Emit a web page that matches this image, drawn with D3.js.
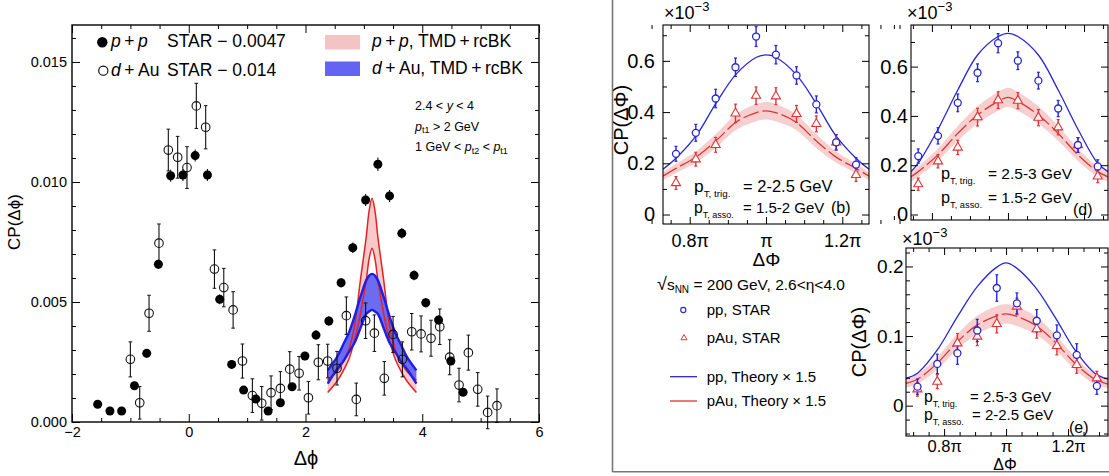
<!DOCTYPE html>
<html>
<head>
<meta charset="utf-8">
<script src="https://cdn.jsdelivr.net/npm/d3@7"></script>
<style>
  body { margin: 0; background: #fff; }
  svg { display: block; }
  text { font-family: "Liberation Sans", Arial, Helvetica, sans-serif; fill: #000; }
</style>
</head>
<body>
<svg id="fig" width="1109" height="476"></svg>
<script>
// ---------------- Left figure: correlation function vs Δϕ ----------------
const ppX = [-1.56,-1.35,-1.15,-0.93,-0.72,-0.52,-0.31,-0.10,0.11,0.32,0.53,0.735,0.94,1.15,1.36,1.57,1.77,1.99,2.18,2.40,2.61,2.81,3.03,3.24,3.44,3.65,3.86,4.06,4.28,4.49,4.70];
const ppY = [0.00074,0.00046,0.00046,0.00151,0.00286,0.00657,0.01026,0.01029,0.0111,0.01029,0.00511,0.0024,0.00133,0.00096,0.00046,0.0008,0.00147,0.00275,0.00362,0.00421,0.0058,0.00726,0.00925,0.01074,0.00942,0.00786,0.00611,0.00497,0.00425,0.00254,0.00124];
const ppErr = [0.00015,0.00015,0.00015,0.00015,0.00018,0.0002,0.00025,0.00025,0.00025,0.00025,0.0002,0.00018,0.00015,0.00015,0.00015,0.00015,0.00015,0.00018,0.0002,0.0002,0.0002,0.00022,0.00025,0.00028,0.00025,0.00022,0.0002,0.0002,0.0002,0.00018,0.00015];

const dauX = [-1.0,-0.84,-0.68,-0.51,-0.35,-0.19,-0.03,0.13,0.29,0.44,0.60,0.76,0.92,1.09,1.25,1.41,1.57,1.73,1.89,2.05,2.22,2.38,2.54,2.70,2.87,3.03,3.18,3.35,3.50,3.66,3.82,3.98,4.15,4.30,4.47,4.63,4.79,4.95,5.12,5.28];
const dauY = [0.00261,0.0008,0.00453,0.00745,0.01133,0.01103,0.0106,0.01317,0.01228,0.00637,0.0056,0.00467,0.00254,0.0011,0.00078,0.00122,0.0014,0.0022,0.00203,0.00101,0.00249,0.00254,0.00224,0.00443,0.00094,0.00422,0.0037,0.00182,0.00365,0.00261,0.00376,0.00367,0.00349,0.00397,0.0027,0.00154,0.00289,0.00136,0.0004,0.00068];
const dauErr = [0.00073,0.00068,0.00075,0.0008,0.00087,0.00087,0.00087,0.00094,0.0009,0.0008,0.0008,0.00076,0.00071,0.0007,0.0007,0.0007,0.0007,0.00073,0.0007,0.00068,0.00073,0.0007,0.0007,0.00078,0.00068,0.00074,0.00076,0.0007,0.00075,0.00073,0.00076,0.00075,0.00075,0.00074,0.00073,0.0007,0.00073,0.0007,0.00068,0.0007];

// TMD + rcBK bands (upper / lower edges)
const bandX   = [2.38,2.54,2.64,2.74,2.84,2.94,3.04,3.09,3.14,3.19,3.24,3.34,3.44,3.54,3.64,3.74,3.90];
const ppBandHi  = [0.00175,0.0021,0.0025,0.0030,0.0040,0.0059,0.0077,0.0088,0.00932,0.0088,0.0077,0.0059,0.0040,0.0030,0.0025,0.0021,0.00175];
const ppBandLo  = [0.00123,0.0017,0.0021,0.0026,0.0034,0.0045,0.0059,0.0068,0.00724,0.0068,0.0059,0.0045,0.0034,0.0026,0.0021,0.0017,0.00123];
const dauBandHi = [0.00215,0.0027,0.0032,0.0037,0.0044,0.0052,0.0059,0.0061,0.00617,0.0061,0.0059,0.0052,0.0044,0.0037,0.0032,0.0027,0.00215];
const dauBandLo = [0.0016,0.0022,0.0025,0.0029,0.0033,0.0039,0.0045,0.0046,0.00467,0.0046,0.0045,0.0039,0.0033,0.0029,0.0025,0.0022,0.0016];

const leftXTicks = [-2, 0, 2, 4, 6];
const leftYTicks = [0, 0.005, 0.010, 0.015];

// ---------------- Right figure: away-side peaks ----------------
const starX  = [0.764,0.816,0.868,0.92,0.974,1.026,1.08,1.132,1.184,1.236];
const starPP = [0.237,0.319,0.453,0.575,0.695,0.624,0.543,0.430,0.282,0.195];
const starPPErr = [0.029,0.033,0.036,0.036,0.039,0.036,0.034,0.033,0.030,0.027];
const starPA = [0.123,0.216,0.272,0.395,0.464,0.462,0.393,0.354,0.282,0.155];
const starPAErr = [0.025,0.027,0.029,0.036,0.034,0.033,0.033,0.031,0.030,0.026];

const starXe  = [0.714,0.778,0.843,0.907,0.970,1.035,1.099,1.164,1.228,1.293];
const starPPe = [0.0273,0.060,0.0754,0.108,0.169,0.147,0.122,0.101,0.073,0.0283];
const starPPeErr = [0.011,0.014,0.016,0.016,0.019,0.015,0.016,0.015,0.016,0.012];
const starPAe = [0.0236,0.0345,0.0897,0.0993,0.1175,0.1425,0.110,0.086,0.0585,0.0394];
const starPAeErr = [0.010,0.010,0.014,0.013,0.013,0.012,0.013,0.013,0.012,0.010];

// theory × 1.5 curves, panel (b)
const thXb  = [0.730,0.764,0.818,0.871,0.923,0.975,1.000,1.025,1.077,1.129,1.182,1.236,1.270];
const thPPb = [0.177,0.220,0.310,0.440,0.550,0.614,0.623,0.614,0.550,0.440,0.310,0.220,0.177];
const thPAb = [0.150,0.180,0.226,0.291,0.3625,0.398,0.405,0.398,0.3625,0.291,0.226,0.180,0.150];
const thPAbErr = [0.016,0.018,0.022,0.027,0.031,0.034,0.034,0.034,0.031,0.027,0.022,0.018,0.016];
// panel (d)
const thXd  = [0.745,0.764,0.815,0.868,0.920,0.973,1.000,1.027,1.080,1.132,1.185,1.236,1.263];
const thPPd = [0.174,0.208,0.343,0.505,0.647,0.721,0.735,0.721,0.647,0.505,0.343,0.208,0.174];
const thPAd = [0.153,0.174,0.241,0.329,0.404,0.458,0.475,0.458,0.404,0.329,0.241,0.174,0.153];
const thPAdErr = [0.020,0.021,0.025,0.030,0.035,0.038,0.039,0.038,0.035,0.030,0.025,0.021,0.020];
// panel (e)
const thXe  = [0.677,0.714,0.778,0.843,0.907,0.970,1.000,1.030,1.093,1.157,1.222,1.286,1.329];
const thPPe = [0.0394,0.0466,0.080,0.128,0.171,0.199,0.205,0.199,0.171,0.128,0.080,0.0466,0.038];
const thPAe = [0.032,0.038,0.061,0.092,0.116,0.129,0.132,0.129,0.116,0.092,0.061,0.038,0.031];
const thPAeErr = [0.006,0.007,0.009,0.011,0.013,0.014,0.014,0.014,0.013,0.011,0.009,0.007,0.006];

const piTickLabels = {0.8: "0.8π", 1: "π", 1.2: "1.2π"};

const BLUE = "#2626d8", RED = "#e03434", PINK = "#f6caca";

const svg = d3.select("#fig");

// ---------- helpers ----------
function styleAxis(g, size) {
  g.select(".domain").remove();
  g.selectAll("line").attr("stroke", "#000").attr("stroke-width", 1);
  g.selectAll("text").attr("font-size", size).attr("font-family", '"Liberation Sans", Arial, sans-serif').attr("fill", "#000");
}
function frameAxes(g, x, y, o) {
  // labelled major ticks
  g.append("g").attr("transform", `translate(0,${o.y1})`)
    .call(d3.axisBottom(x).tickValues(o.xMajor).tickSize(-o.major).tickPadding(o.xPad).tickFormat(o.xFmat || (() => "")))
    .call(s => styleAxis(s, o.xFont || o.font));
  g.append("g").attr("transform", `translate(0,${o.y0})`)
    .call(d3.axisTop(x).tickValues(o.xMajor).tickSize(-o.major).tickFormat(() => ""))
    .call(s => styleAxis(s, o.font));
  g.append("g").attr("transform", `translate(${o.x0},0)`)
    .call(d3.axisLeft(y).tickValues(o.yMajor).tickSize(-o.major).tickPadding(o.yPad).tickFormat(o.yFmat))
    .call(s => styleAxis(s, o.font));
  g.append("g").attr("transform", `translate(${o.x1},0)`)
    .call(d3.axisRight(y).tickValues(o.yMajor).tickSize(-o.major).tickFormat(() => ""))
    .call(s => styleAxis(s, o.font));
  // minor ticks
  [["axisBottom", o.y1, x, o.xMinor, "h"], ["axisTop", o.y0, x, o.xMinor, "h"],
   ["axisLeft", o.x0, y, o.yMinor, "v"], ["axisRight", o.x1, y, o.yMinor, "v"]].forEach(([fn, pos, sc, vals, dir]) => {
    g.append("g").attr("transform", dir === "h" ? `translate(0,${pos})` : `translate(${pos},0)`)
      .call(d3[fn](sc).tickValues(vals).tickSize(-o.minor).tickFormat(() => ""))
      .call(s => styleAxis(s, o.font));
  });
  g.append("rect").attr("x", o.x0).attr("y", o.y0).attr("width", o.x1 - o.x0).attr("height", o.y1 - o.y0)
    .attr("fill", "none").attr("stroke", "#000").attr("stroke-width", o.frame);
}

// =================== LEFT FIGURE ===================
const L = {x0: 72, x1: 539, y0: 25, y1: 422};
const xL = d3.scaleLinear().domain([-2, 6]).range([L.x0, L.x1]);
const yL = d3.scaleLinear().domain([0, 0.01654]).range([L.y1, L.y0]);
const gL = svg.append("g");

// bands
const bandRows = bandX.map((v, i) => ({x: v, ph: ppBandHi[i], pl: ppBandLo[i], dh: dauBandHi[i], dl: dauBandLo[i]}));
const cv = d3.curveCatmullRom.alpha(0.5);
gL.append("path").datum(bandRows)
  .attr("d", d3.area().x(d => xL(d.x)).y0(d => yL(d.pl)).y1(d => yL(d.ph)).curve(cv))
  .attr("fill", PINK);
gL.append("path").datum(bandRows)
  .attr("d", d3.area().x(d => xL(d.x)).y0(d => yL(d.dl)).y1(d => yL(d.dh)).curve(cv))
  .attr("fill", "#6c6cf0");
["ph", "pl"].forEach(k => gL.append("path").datum(bandRows)
  .attr("d", d3.line().x(d => xL(d.x)).y(d => yL(d[k])).curve(cv))
  .attr("fill", "none").attr("stroke", "#e42222").attr("stroke-width", 1.5));
["dh", "dl"].forEach(k => gL.append("path").datum(bandRows)
  .attr("d", d3.line().x(d => xL(d.x)).y(d => yL(d[k])).curve(cv))
  .attr("fill", "none").attr("stroke", "#1e1ee6").attr("stroke-width", 2.4));

// d+Au error bars and open markers
const dauRows = dauX.map((v, i) => ({x: v, y: dauY[i], e: dauErr[i]}));
const gD = gL.append("g");
gD.selectAll("line.eb").data(dauRows).join("line")
  .attr("x1", d => xL(d.x)).attr("x2", d => xL(d.x))
  .attr("y1", d => yL(d.y - d.e)).attr("y2", d => yL(d.y + d.e))
  .attr("stroke", "#111").attr("stroke-width", 1.1);
[-1, 1].forEach(s => gD.selectAll(null).data(dauRows).join("line")
  .attr("x1", d => xL(d.x) - 1.8).attr("x2", d => xL(d.x) + 1.8)
  .attr("y1", d => yL(d.y + s * d.e)).attr("y2", d => yL(d.y + s * d.e))
  .attr("stroke", "#111").attr("stroke-width", 1));
gD.selectAll("circle").data(dauRows).join("circle")
  .attr("cx", d => xL(d.x)).attr("cy", d => yL(d.y)).attr("r", 4.3)
  .attr("fill", "none").attr("stroke", "#111").attr("stroke-width", 1.1);

// p+p error bars and filled markers
const ppRows = ppX.map((v, i) => ({x: v, y: ppY[i], e: ppErr[i]}));
const gP = gL.append("g");
gP.selectAll("line").data(ppRows).join("line")
  .attr("x1", d => xL(d.x)).attr("x2", d => xL(d.x))
  .attr("y1", d => yL(d.y - d.e)).attr("y2", d => yL(d.y + d.e))
  .attr("stroke", "#111").attr("stroke-width", 1.1);
gP.selectAll("circle").data(ppRows).join("circle")
  .attr("cx", d => xL(d.x)).attr("cy", d => yL(d.y)).attr("r", 4.5)
  .attr("fill", "#000");

frameAxes(gL, xL, yL, {
  ...L, major: 8, minor: 4, font: 14.5, frame: 1.4, xPad: 5, yPad: 5,
  xMajor: leftXTicks, xMinor: d3.range(-2, 6.01, 0.5).filter(v => v % 2 !== 0),
  yMajor: leftYTicks, yMinor: d3.range(0, 0.0166, 0.001).filter((v, i) => i % 5 !== 0),
  xFmat: d3.format("d"), yFmat: d3.format(".3f")
});

// axis titles
gL.append("text").attr("x", 306).attr("y", 465).attr("text-anchor", "middle").attr("font-size", 20).text("Δϕ");
gL.append("text").attr("transform", "translate(20,222) rotate(-90)").attr("text-anchor", "middle")
  .attr("font-size", 17).text("CP(Δϕ)");

// legend (left)
const TS = "\u2009";
gL.append("circle").attr("cx", 102.3).attr("cy", 42.3).attr("r", 5.2).attr("fill", "#000");
gL.append("circle").attr("cx", 103.3).attr("cy", 70.7).attr("r", 4.6).attr("fill", "none").attr("stroke", "#000").attr("stroke-width", 1.1);
const lg1 = gL.append("text").attr("x", 111).attr("y", 46.7).attr("font-size", 17.5);
lg1.append("tspan").attr("font-style", "italic").text("p");
lg1.append("tspan").text(TS + "+" + TS);
lg1.append("tspan").attr("font-style", "italic").text("p");
lg1.append("tspan").attr("x", 167).text("STAR − 0.0047");
const lg2 = gL.append("text").attr("x", 111).attr("y", 75.5).attr("font-size", 17.5);
lg2.append("tspan").attr("font-style", "italic").text("d");
lg2.append("tspan").text(TS + "+" + TS + "Au");
lg2.append("tspan").attr("x", 167).text("STAR  − 0.014");

gL.append("rect").attr("x", 325).attr("y", 35).attr("width", 35).attr("height", 14.5).attr("fill", "#f4c4c4");
gL.append("rect").attr("x", 325).attr("y", 61.5).attr("width", 35).attr("height", 14.5).attr("fill", "#6464f2");
const lg3 = gL.append("text").attr("x", 372).attr("y", 46.7).attr("font-size", 17.5);
lg3.append("tspan").attr("font-style", "italic").text("p");
lg3.append("tspan").text(TS + "+" + TS);
lg3.append("tspan").attr("font-style", "italic").text("p");
lg3.append("tspan").text(", TMD" + TS + "+" + TS + "rcBK");
const lg4 = gL.append("text").attr("x", 372).attr("y", 74).attr("font-size", 17.5);
lg4.append("tspan").attr("font-style", "italic").text("d");
lg4.append("tspan").text(TS + "+" + TS + "Au, TMD" + TS + "+" + TS + "rcBK");

// kinematic cuts
const k1 = gL.append("text").attr("x", 415).attr("y", 110).attr("font-size", 12.5);
k1.append("tspan").text("2.4 < ");
k1.append("tspan").attr("font-style", "italic").text("y");
k1.append("tspan").text(" < 4");
const k2 = gL.append("text").attr("x", 415).attr("y", 130.5).attr("font-size", 12.5);
k2.append("tspan").attr("font-style", "italic").text("p");
k2.append("tspan").attr("font-size", 9).attr("dy", 2.5).text("t1");
k2.append("tspan").attr("dy", -2.5).text(" > 2 GeV");
const k3 = gL.append("text").attr("x", 415).attr("y", 151).attr("font-size", 12.5);
k3.append("tspan").text("1 GeV < ");
k3.append("tspan").attr("font-style", "italic").text("p");
k3.append("tspan").attr("font-size", 9).attr("dy", 2.5).text("t2");
k3.append("tspan").attr("dy", -2.5).text(" < ");
k3.append("tspan").attr("font-style", "italic").text("p");
k3.append("tspan").attr("font-size", 9).attr("dy", 2.5).text("t1");

// =================== RIGHT FIGURE ===================
const gR = svg.append("g");
// outer border of the figure
gR.append("line").attr("x1", 612.5).attr("x2", 612.5).attr("y1", 0).attr("y2", 472).attr("stroke", "#777").attr("stroke-width", 1.6);
gR.append("line").attr("x1", 612.5).attr("x2", 1109).attr("y1", 471.7).attr("y2", 471.7).attr("stroke", "#777").attr("stroke-width", 1.6);

const panels = [
  {name: "b", x0: 663, x1: 869, y0: 25, y1: 224, xd: [0.73, 1.27], yd: [-0.037, 0.740],
   sx: starX, pp: starPP, ppE: starPPErr, pa: starPA, paE: starPAErr,
   tx: thXb, tpp: thPPb, tpa: thPAb, tpaE: thPAbErr,
   yMajor: [0, 0.2, 0.4, 0.6], yMinor: [0.1, 0.3, 0.5, 0.7], xLabels: true, yPad: 8, xPad: 10, font: 20, xFont: 18},
  {name: "d", x0: 911, x1: 1108, y0: 25, y1: 220, xd: [0.745, 1.263], yd: [-0.0223, 0.7688],
   sx: starX, pp: starPP, ppE: starPPErr, pa: starPA, paE: starPAErr,
   tx: thXd, tpp: thPPd, tpa: thPAd, tpaE: thPAdErr,
   yMajor: [0, 0.2, 0.4, 0.6], yMinor: [0.1, 0.3, 0.5, 0.7], xLabels: false, yPad: 3, xPad: 10, font: 20, xFont: 18},
  {name: "e", x0: 906, x1: 1108, y0: 248, y1: 436, xd: [0.677, 1.329], yd: [-0.0436, 0.2265],
   sx: starXe, pp: starPPe, ppE: starPPeErr, pa: starPAe, paE: starPAeErr,
   tx: thXe, tpp: thPPe, tpa: thPAe, tpaE: thPAeErr,
   yMajor: [0, 0.1, 0.2], yMinor: [-0.04, -0.02, 0.02, 0.04, 0.06, 0.08, 0.12, 0.14, 0.16, 0.18, 0.22], xLabels: true, yPad: 2.5, xPad: 4.5, font: 19, xFont: 16.5}
];

panels.forEach(p => {
  const x = d3.scaleLinear().domain(p.xd).range([p.x0, p.x1]);
  const y = d3.scaleLinear().domain(p.yd).range([p.y1, p.y0]);
  const g = gR.append("g");
  const clipId = "clip-" + p.name;
  svg.append("clipPath").attr("id", clipId).append("rect")
    .attr("x", p.x0).attr("y", p.y0).attr("width", p.x1 - p.x0).attr("height", p.y1 - p.y0);
  const plot = g.append("g").attr("clip-path", `url(#${clipId})`);

  const th = p.tx.map((v, i) => ({x: v, pp: p.tpp[i], pa: p.tpa[i], e: p.tpaE[i]}));
  const c = d3.curveCatmullRom.alpha(0.5);
  plot.append("path").datum(th)
    .attr("d", d3.area().x(d => x(d.x)).y0(d => y(d.pa - d.e)).y1(d => y(d.pa + d.e)).curve(c))
    .attr("fill", PINK).attr("opacity", 0.9);
  plot.append("path").datum(th)
    .attr("d", d3.line().x(d => x(d.x)).y(d => y(d.pa)).curve(c))
    .attr("fill", "none").attr("stroke", RED).attr("stroke-width", 1.3).attr("stroke-dasharray", "16,4");
  plot.append("path").datum(th)
    .attr("d", d3.line().x(d => x(d.x)).y(d => y(d.pp)).curve(c))
    .attr("fill", "none").attr("stroke", BLUE).attr("stroke-width", 1.3);

  // STAR points
  const paRows = p.sx.map((v, i) => ({x: v, y: p.pa[i], e: p.paE[i]}));
  const ppRowsR = p.sx.map((v, i) => ({x: v, y: p.pp[i], e: p.ppE[i]}));
  [[paRows, RED], [ppRowsR, BLUE]].forEach(([rows, col]) => {
    plot.selectAll(null).data(rows).join("line")
      .attr("x1", d => x(d.x)).attr("x2", d => x(d.x))
      .attr("y1", d => y(d.y - d.e)).attr("y2", d => y(d.y + d.e))
      .attr("stroke", col).attr("stroke-width", 1.4);
    [-1, 1].forEach(s => plot.selectAll(null).data(rows).join("line")
      .attr("x1", d => x(d.x) - 1.5).attr("x2", d => x(d.x) + 1.5)
      .attr("y1", d => y(d.y + s * d.e)).attr("y2", d => y(d.y + s * d.e))
      .attr("stroke", col).attr("stroke-width", 1.2));
  });
  plot.selectAll(null).data(paRows).join("path")
    .attr("transform", d => `translate(${x(d.x)},${y(d.y)})`)
    .attr("d", d3.symbol(d3.symbolTriangle, 36))
    .attr("fill", "#fff").attr("stroke", RED).attr("stroke-width", 1.1);
  plot.selectAll(null).data(ppRowsR).join("circle")
    .attr("cx", d => x(d.x)).attr("cy", d => y(d.y)).attr("r", 3.5)
    .attr("fill", "#fff").attr("stroke", BLUE).attr("stroke-width", 1.3);

  frameAxes(g, x, y, {
    x0: p.x0, x1: p.x1, y0: p.y0, y1: p.y1, major: 7, minor: 4, font: p.font, xFont: p.xFont, frame: 1.1,
    xPad: p.xPad, yPad: p.yPad,
    xMajor: [0.8, 1, 1.2], xMinor: d3.range(0.7, 1.35, 0.05).map(v => +v.toFixed(2)).filter(v => ![0.8, 1, 1.2].includes(v)),
    yMajor: p.yMajor, yMinor: p.yMinor,
    xFmat: p.xLabels ? (d => piTickLabels[d]) : (() => ""),
    yFmat: d => d === 0 ? "0" : d3.format(".1f")(d)
  });
  // ×10^-3 exponent
  const ex = g.append("text").attr("x", p.x0 + (p.name === "b" ? 1 : -4)).attr("y", p.y0 - (p.name === "e" ? 3 : 6)).attr("font-size", 18);
  ex.append("tspan").text("×10");
  ex.append("tspan").attr("font-size", 13).attr("dy", -8).text("−3");
});

// panel annotations
function ptLabel(xp, xEq, yb, sub, rest, size) {
  const t = gR.append("text").attr("x", xp).attr("y", yb).attr("font-size", size);
  t.append("tspan").attr("font-size", size * 1.05).text("p");
  t.append("tspan").attr("font-size", size * 0.6).attr("dy", 5).text(sub);
  t.append("tspan").attr("x", xEq).attr("dy", -5).text(rest);
}
ptLabel(694, 743, 191.5, "T, trig.", "= 2-2.5 GeV", 16.5);
ptLabel(694, 743, 213, "T, asso.", "= 1.5-2 GeV", 15);
gR.append("text").attr("x", 831).attr("y", 213).attr("font-size", 16).text("(b)");
ptLabel(941, 988, 179, "T, trig.", "= 2.5-3 GeV", 15.5);
ptLabel(941, 988, 203, "T, asso.", "= 1.5-2 GeV", 15.5);
gR.append("text").attr("x", 1073).attr("y", 215).attr("font-size", 16).text("(d)");
ptLabel(924, 970, 401.5, "T, trig.", "= 2.5-3 GeV", 15);
ptLabel(924, 972, 420, "T, asso.", "= 2-2.5 GeV", 15);
gR.append("text").attr("x", 1069).attr("y", 432.5).attr("font-size", 16).text("(e)");

// axis titles
gR.append("text").attr("transform", "translate(628,120) rotate(-90)").attr("text-anchor", "middle").attr("font-size", 20).text("CP(ΔΦ)");
gR.append("text").attr("transform", "translate(866,342) rotate(-90)").attr("text-anchor", "middle").attr("font-size", 20).text("CP(ΔΦ)");
gR.append("text").attr("x", 766.5).attr("y", 266).attr("text-anchor", "middle").attr("font-size", 19)
  .attr("font-family", '"Liberation Serif", "Times New Roman", serif').text("ΔΦ");
gR.append("text").attr("x", 1005).attr("y", 470).attr("text-anchor", "middle").attr("font-size", 16)
  .attr("font-family", '"Liberation Serif", "Times New Roman", serif').text("ΔΦ");

// legend (right)
const lt = gR.append("text").attr("x", 657).attr("y", 290).attr("font-size", 15.5);
lt.append("tspan").attr("font-size", 18).text("√");
lt.append("tspan").text("s");
lt.append("tspan").attr("font-size", 10).attr("dy", 3).text("NN");
lt.append("tspan").attr("dy", -3).text(" = 200 GeV, 2.6<η<4.0");
gR.append("circle").attr("cx", 683.3).attr("cy", 310).attr("r", 2.6).attr("fill", "none").attr("stroke", BLUE).attr("stroke-width", 1.1);
gR.append("path").attr("transform", "translate(684,338)").attr("d", d3.symbol(d3.symbolTriangle, 16)())
  .attr("fill", "none").attr("stroke", RED).attr("stroke-width", 1);
gR.append("text").attr("x", 706.7).attr("y", 315).attr("font-size", 15).text("pp, STAR");
gR.append("text").attr("x", 706.7).attr("y", 343).attr("font-size", 15).text("pAu, STAR");
gR.append("line").attr("x1", 670).attr("x2", 697).attr("y1", 376.7).attr("y2", 376.7).attr("stroke", BLUE).attr("stroke-width", 1.3);
gR.append("line").attr("x1", 670).attr("x2", 697).attr("y1", 401).attr("y2", 401).attr("stroke", RED).attr("stroke-width", 1.3);
gR.append("text").attr("x", 706.7).attr("y", 381.7).attr("font-size", 15).text("pp, Theory × 1.5");
gR.append("text").attr("x", 706.7).attr("y", 406).attr("font-size", 15).text("pAu, Theory × 1.5");
</script>
</body>
</html>
